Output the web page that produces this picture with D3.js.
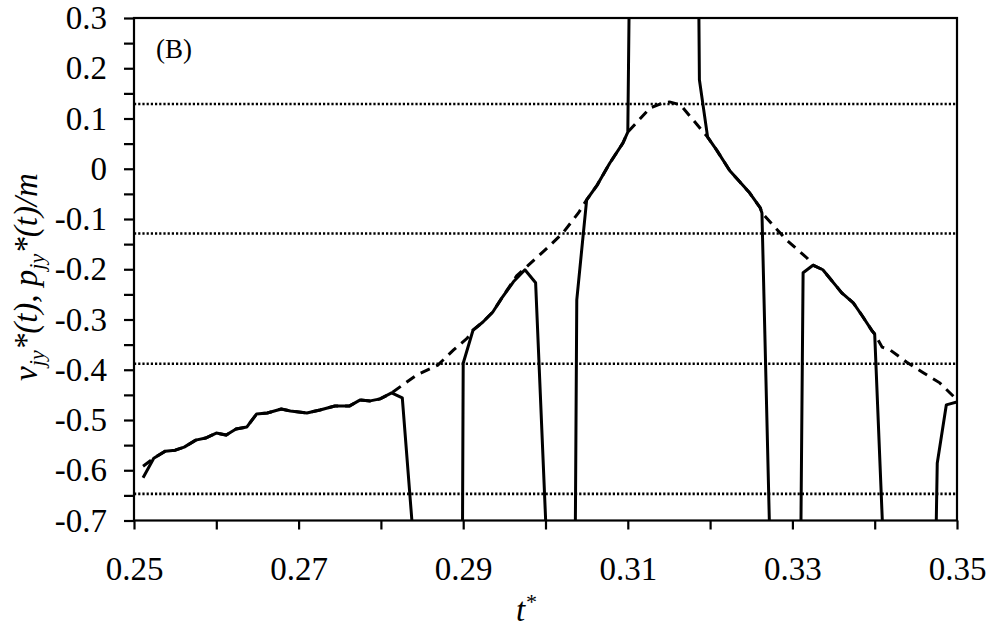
<!DOCTYPE html>
<html>
<head>
<meta charset="utf-8">
<script src="https://cdn.jsdelivr.net/npm/d3@7"></script>
<style>
  html, body { margin: 0; padding: 0; background: #fff; }
  svg { display: block; }
  text { font-family: "Liberation Serif", "Times New Roman", serif; fill: #000; }
</style>
</head>
<body>
<svg id="chart" width="988" height="628"></svg>
<script>
// ---- data ----
// solid line: v_jy*(t)
const tV = [0.2511,0.2524,0.2538,0.2550,0.2561,0.2575,0.2587,0.2600,0.2612,0.2624,0.2637,0.2649,0.2662,0.2679,0.2690,0.2710,0.2726,0.2744,0.2762,0.2775,0.2787,0.2799,0.2813,0.2826,0.2841,0.2899,0.2900,0.2912,0.2924,0.2936,0.2947,0.2961,0.2975,0.2988,0.3002,0.3036,0.3038,0.3050,0.3063,0.3078,0.3094,0.3100,0.3102,0.3186,0.3187,0.3197,0.3208,0.3224,0.3236,0.3248,0.3261,0.3263,0.3273,0.3310,0.3313,0.3325,0.3337,0.3360,0.3374,0.3385,0.3397,0.3400,0.3411,0.3474,0.3476,0.3487,0.3500];
const vV = [-0.615,-0.576,-0.562,-0.560,-0.554,-0.540,-0.536,-0.526,-0.530,-0.518,-0.514,-0.488,-0.486,-0.478,-0.482,-0.486,-0.480,-0.472,-0.472,-0.460,-0.462,-0.458,-0.446,-0.456,-0.77,-0.78,-0.387,-0.321,-0.305,-0.285,-0.257,-0.225,-0.201,-0.227,-0.77,-0.78,-0.261,-0.062,-0.032,0.011,0.051,0.073,0.38,0.38,0.177,0.063,0.037,-0.004,-0.026,-0.048,-0.078,-0.088,-0.77,-0.78,-0.207,-0.192,-0.201,-0.247,-0.267,-0.293,-0.323,-0.329,-0.77,-0.78,-0.586,-0.470,-0.464];
// dashed line: p_jy*(t)/m
const tP = [0.2511,0.2524,0.2538,0.2550,0.2561,0.2575,0.2587,0.2600,0.2612,0.2624,0.2637,0.2649,0.2662,0.2679,0.2690,0.2710,0.2726,0.2744,0.2762,0.2775,0.2787,0.2799,0.2813,0.2844,0.2869,0.2888,0.2905,0.2912,0.2924,0.2936,0.2947,0.2965,0.3002,0.3021,0.3040,0.3050,0.3063,0.3078,0.3094,0.3100,0.3127,0.3143,0.3151,0.3164,0.3197,0.3208,0.3224,0.3236,0.3248,0.3261,0.3263,0.3293,0.3318,0.3325,0.3337,0.3360,0.3374,0.3385,0.3397,0.3400,0.3409,0.3419,0.3439,0.3459,0.3479,0.3500];
const pP = [-0.592,-0.576,-0.562,-0.560,-0.554,-0.540,-0.536,-0.526,-0.530,-0.518,-0.514,-0.488,-0.486,-0.478,-0.482,-0.486,-0.480,-0.472,-0.472,-0.460,-0.462,-0.458,-0.446,-0.410,-0.391,-0.361,-0.337,-0.321,-0.305,-0.285,-0.257,-0.213,-0.158,-0.128,-0.088,-0.062,-0.032,0.011,0.051,0.073,0.121,0.131,0.133,0.127,0.063,0.037,-0.004,-0.026,-0.048,-0.078,-0.088,-0.142,-0.178,-0.192,-0.201,-0.247,-0.267,-0.293,-0.323,-0.329,-0.355,-0.361,-0.385,-0.406,-0.426,-0.460];
// dotted reference levels
const refLevels = [0.129, -0.129, -0.388, -0.647];
// ticks
const xTicks = [0.25,0.26,0.27,0.28,0.29,0.30,0.31,0.32,0.33,0.34,0.35];
const xTickLabels = ["0.25","","0.27","","0.29","","0.31","","0.33","","0.35"];
const yTicks = [-0.7,-0.65,-0.6,-0.55,-0.5,-0.45,-0.4,-0.35,-0.3,-0.25,-0.2,-0.15,-0.1,-0.05,0,0.05,0.1,0.15,0.2,0.25,0.3];
const yTickLabels = ["-0.7","","-0.6","","-0.5","","-0.4","","-0.3","","-0.2","","-0.1","","0","","0.1","","0.2","","0.3"];
const panelLabel = "(B)";

// ---- layout ----
const L = 134, R = 957, T = 18, B = 520.5;
const svg = d3.select("#chart");
const x = d3.scaleLinear().domain([0.25, 0.35]).range([L, R]);
const y = d3.scaleLinear().domain([-0.7, 0.3]).range([B, T]);

svg.append("defs").append("clipPath").attr("id", "clip")
  .append("rect").attr("x", L).attr("y", T).attr("width", R - L).attr("height", B - T);

const plot = svg.append("g").attr("clip-path", "url(#clip)");

// dotted lines
plot.selectAll("line.ref").data(refLevels).enter().append("line")
  .attr("class", "ref")
  .attr("x1", L).attr("x2", R)
  .attr("y1", d => y(d)).attr("y2", d => y(d))
  .attr("stroke", "#000").attr("stroke-width", 2.6)
  .attr("stroke-dasharray", "2.2,2");

const line = d3.line().x(d => x(d[0])).y(d => y(d[1]));

// dashed series
plot.append("path")
  .datum(tP.map((t, i) => [t, pP[i]]))
  .attr("d", line).attr("fill", "none")
  .attr("stroke", "#000").attr("stroke-width", 3)
  .attr("stroke-dasharray", "10,7");

// solid series
plot.append("path")
  .datum(tV.map((t, i) => [t, vV[i]]))
  .attr("d", line).attr("fill", "none")
  .attr("stroke", "#000").attr("stroke-width", 3)
  .attr("stroke-linejoin", "round");

// frame
svg.append("rect").attr("x", L).attr("y", T).attr("width", R - L).attr("height", B - T)
  .attr("fill", "none").attr("stroke", "#000").attr("stroke-width", 2.2);

// axes
const yAxis = svg.append("g").attr("transform", `translate(${L},0)`)
  .call(d3.axisLeft(y).tickValues(yTicks).tickSize(10).tickPadding(17)
    .tickFormat((d, i) => yTickLabels[i]));
const xAxis = svg.append("g").attr("transform", `translate(0,${B})`)
  .call(d3.axisBottom(x).tickValues(xTicks).tickSize(9).tickPadding(27)
    .tickFormat((d, i) => xTickLabels[i]));
[yAxis, xAxis].forEach(g => {
  g.select(".domain").remove();
  g.selectAll(".tick line").attr("stroke", "#000").attr("stroke-width", 2.2);
  g.selectAll(".tick text").attr("font-family", "Liberation Serif, serif")
    .attr("font-size", 33).attr("fill", "#000");
});
xAxis.selectAll(".tick text").attr("dy", "0.71em");

// panel label
svg.append("text").attr("x", 156).attr("y", 58).attr("font-size", 27).text(panelLabel);

// x title
const xt = svg.append("text").attr("x", 526).attr("y", 621)
  .attr("text-anchor", "middle").attr("font-size", 33).attr("font-style", "italic");
xt.append("tspan").text("t");
xt.append("tspan").attr("font-size", 22).attr("dy", -12).text("*");

// y title
const yt = svg.append("text")
  .attr("transform", "translate(37,277) rotate(-90)")
  .attr("text-anchor", "middle").attr("font-size", 33).attr("font-style", "italic");
yt.append("tspan").text("v");
yt.append("tspan").attr("font-size", 22).attr("dy", 7).text("jy");
yt.append("tspan").attr("dy", -7).text("*(t), p");
yt.append("tspan").attr("font-size", 22).attr("dy", 7).text("jy");
yt.append("tspan").attr("dy", -7).text("*(t)/m");
</script>
</body>
</html>
